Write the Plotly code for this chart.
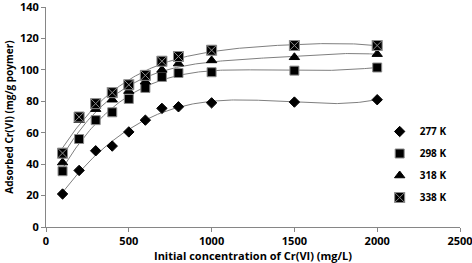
import numpy as np
import plotly.graph_objects as go

conc = [100, 200, 300, 400, 500, 600, 700, 800, 1000, 1500, 2000]
series_names = ["277 K", "298 K", "318 K", "338 K"]
q_277 = [21, 36, 48.5, 51.5, 60.5, 68, 75.5, 76.5, 79, 79.5, 81]
q_298 = [35.5, 56, 68, 73, 81.5, 88.5, 95.5, 98, 98.5, 99.5, 101.5]
q_318 = [41, 68, 75, 81, 86.5, 92.5, 100, 104, 106, 108, 110]
q_338 = [47, 70, 78.5, 85.5, 90.5, 96.5, 105.5, 108.5, 112.5, 115.5, 115.5]
x_ticks = [0, 500, 1000, 1500, 2000, 2500]
y_ticks = [0, 20, 40, 60, 80, 100, 120, 140]

symbols = ["diamond", "square", "triangle-up", "square-x"]
sizes = [8, 9, 9, 10]
all_q = [q_277, q_298, q_318, q_338]

fig = go.Figure()
xs = np.linspace(min(conc), max(conc), 200)
xn = np.array(conc) / 1000.0
for q in all_q:
    coef = np.polyfit(xn, q, 4)
    fig.add_trace(go.Scatter(x=xs, y=np.polyval(coef, xs / 1000.0), mode="lines",
                             line=dict(color="#7f7f7f", width=1), showlegend=False,
                             hoverinfo="skip"))
for i, (name, q) in enumerate(zip(series_names, all_q)):
    fig.add_trace(go.Scatter(x=conc, y=q, mode="markers", name=name, legendgroup=name,
                             marker=dict(symbol=symbols[i], size=sizes[i], color="black",
                                         line=dict(color="#8c8c8c" if i in (1, 3) else "black",
                                                   width=1))))

tf = dict(family="Open Sans", size=11, color="black", weight="bold")
fig.update_layout(
    width=472, height=263,
    margin=dict(l=46, r=12, t=7, b=36, autoexpand=False),
    paper_bgcolor="white", plot_bgcolor="white",
    font=dict(family="Open Sans", size=11, color="black"),
    legend=dict(x=0.806, y=0.5, xanchor="left", yanchor="top", bgcolor="rgba(0,0,0,0)",
                font=dict(family="Open Sans", size=10, color="black", weight="bold"),
                tracegroupgap=3, itemwidth=30),
    showlegend=True,
)
fig.update_xaxes(range=[0, 2500], tickvals=x_ticks, ticktext=[str(v) for v in x_ticks],
                 showgrid=False, zeroline=False, showline=True, linecolor="#868686",
                 ticks="outside", tickcolor="#868686", ticklen=4, automargin=False,
                 ticklabeloverflow="allow", tickfont=tf,
                 title=dict(text="<b>Initial concentration of Cr(VI) (mg/L)</b>",
                            font=dict(family="Open Sans", size=11), standoff=6))
fig.update_yaxes(range=[0, 140], tickvals=y_ticks, ticktext=[str(v) for v in y_ticks],
                 showgrid=False, zeroline=False, showline=True, linecolor="#868686",
                 ticks="outside", tickcolor="#868686", ticklen=4, automargin=False,
                 ticklabeloverflow="allow", tickfont=tf,
                 title=dict(text="<b>Adsorbed Cr(VI) (mg/g poymer)</b>",
                            font=dict(family="Open Sans", size=10), standoff=4))
fig.write_html("out.html", config={"displayModeBar": False},
               post_script="document.body.style.margin='0';")
